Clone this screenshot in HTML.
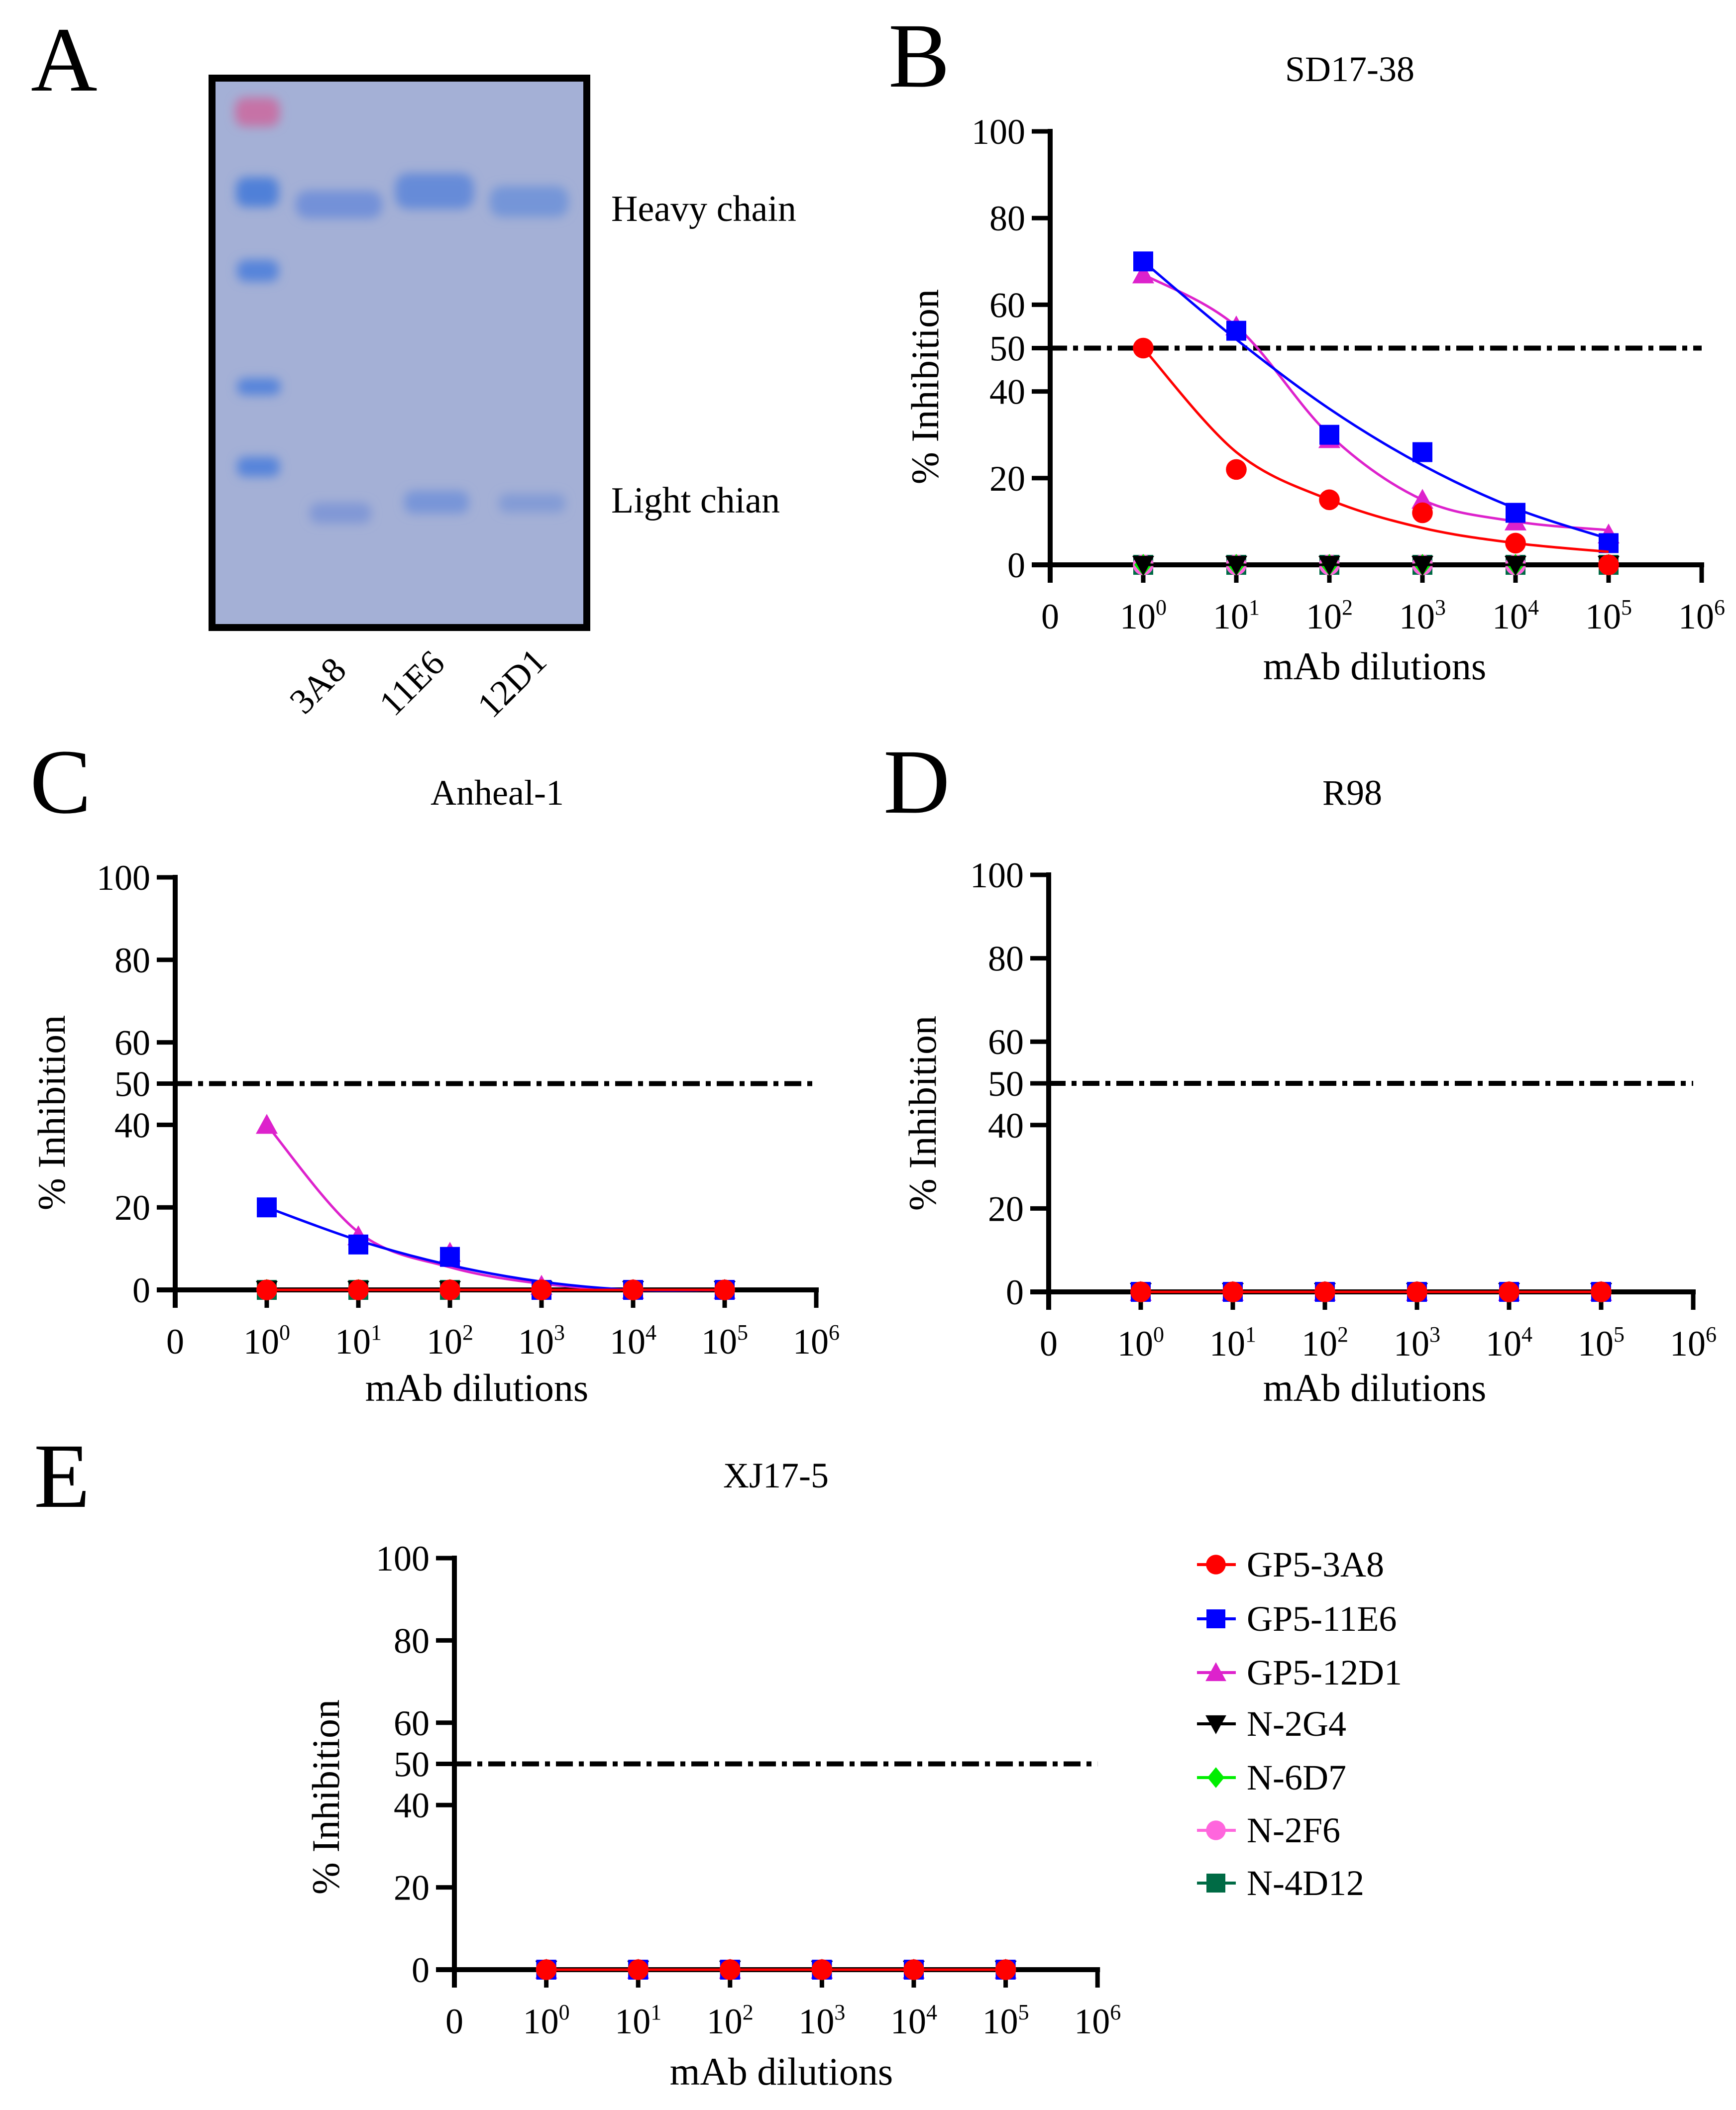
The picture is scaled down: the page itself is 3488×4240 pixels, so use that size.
<!DOCTYPE html>
<html><head><meta charset="utf-8"><style>
html,body{margin:0;padding:0;background:#fff}
svg{display:block}
text,tspan{font-family:"Liberation Serif","DejaVu Serif",serif;fill:#000}
</style></head><body>
<svg id="fig" width="3488" height="4240" viewBox="0 0 3488 4240" xmlns="http://www.w3.org/2000/svg" font-family="'Liberation Serif', serif">
<defs>
<filter id="blur" x="-30%" y="-50%" width="160%" height="200%"><feGaussianBlur stdDeviation="10"/></filter>
</defs>
<g>
<text x="62" y="182" font-size="185">A</text>
<rect x="426" y="157" width="753" height="1104" fill="#a4b0d6" stroke="#000" stroke-width="14"/>
<g filter="url(#blur)">
<rect x="472" y="196" width="90" height="58" rx="20" fill="#c672a6"/>
<rect x="474" y="356" width="86" height="60" rx="20" fill="#5080d8"/>
<rect x="476" y="522" width="84" height="44" rx="18" fill="#5684da"/>
<rect x="476" y="760" width="88" height="34" rx="16" fill="#5684da"/>
<rect x="476" y="918" width="86" height="40" rx="16" fill="#5684da"/>
<rect x="594" y="383" width="174" height="56" rx="24" fill="#7391d8"/>
<rect x="794" y="348" width="158" height="72" rx="26" fill="#668bd8"/>
<rect x="984" y="374" width="158" height="62" rx="24" fill="#7595d8"/>
<rect x="622" y="1010" width="124" height="42" rx="18" fill="#8198d6"/>
<rect x="812" y="986" width="130" height="46" rx="18" fill="#7895d8"/>
<rect x="1002" y="992" width="134" height="38" rx="16" fill="#839bd6"/>
</g>
<text x="1228" y="444" font-size="74">Heavy chain</text>
<text x="1228" y="1030" font-size="74">Light chian</text>
<text x="642" y="1400" font-size="72" text-anchor="middle" transform="rotate(-45 642 1381)">3A8</text>
<text x="831" y="1395" font-size="72" text-anchor="middle" transform="rotate(-45 831 1376)">11E6</text>
<text x="1032" y="1395" font-size="72" text-anchor="middle" transform="rotate(-45 1032 1376)">12D1</text>
</g>
<g id="charts"></g>
<g id="legend"></g>
</svg>
<script>
const xTickExp = ["", "0", "1", "2", "3", "4", "5", "6"];
const yTicks = [0, 20, 40, 50, 60, 80, 100];
const seriesNames = ["N-4D12", "N-2F6", "N-6D7", "N-2G4", "GP5-12D1", "GP5-11E6", "GP5-3A8"];
const legendOrder = ["GP5-3A8", "GP5-11E6", "GP5-12D1", "N-2G4", "N-6D7", "N-2F6", "N-4D12"];
// Panel B SD17-38
const b3A8 = [50, 22, 15, 12, 5, 0];
const b11E6 = [70, 54, 30, 26, 12, 5];
const b12D1 = [67, 55, 29, 15, 10, 7];
const b3A8Fit = [50, 26, 15, 8.5, 5, 3];
const b11E6Fit = [70, 52, 36, 23, 13, 6];
const b12D1Fit = [67, 55, 30, 15, 10, 8];
// Panel C Anheal-1
const c3A8 = [0, 0, 0, 0, 0, 0];
const c11E6 = [20, 11, 8, 0, 0, 0];
const c12D1 = [40, 13, 9, 1, 0, 0];
const c11E6Fit = [20, 12, 6, 2, 0, 0];
const c12D1Fit = [40, 14, 5.5, 1.5, 0, 0];
// Panels D / E
const zeros = [0, 0, 0, 0, 0, 0];

const NS = "http://www.w3.org/2000/svg";
const colors = {"GP5-3A8":"#ff0000","GP5-11E6":"#0000ff","GP5-12D1":"#dd22cc","N-2G4":"#000000","N-6D7":"#00ee00","N-2F6":"#ff66dd","N-4D12":"#006b45"};
const shapes = {"GP5-3A8":"circle","GP5-11E6":"square","GP5-12D1":"tri","N-2G4":"dtri","N-6D7":"diamond","N-2F6":"circle","N-4D12":"square"};
const FF = "'Liberation Serif', serif";

function mk(tag, attrs, parent){const e=document.createElementNS(NS,tag);for(const k in attrs)e.setAttribute(k,attrs[k]);parent.appendChild(e);return e;}

function marker(g, shape, cx, cy, col, s){
  let e;
  if(shape==="circle") e=mk("circle",{cx:cx,cy:cy,r:s*0.52,fill:col},g);
  else if(shape==="square") e=mk("rect",{x:cx-s/2,y:cy-s/2,width:s,height:s,fill:col},g);
  else if(shape==="tri") e=mk("polygon",{points:`${cx},${cy-s*0.55} ${cx+s*0.55},${cy+s*0.45} ${cx-s*0.55},${cy+s*0.45}`,fill:col},g);
  else if(shape==="dtri") e=mk("polygon",{points:`${cx},${cy+s*0.55} ${cx+s*0.55},${cy-s*0.45} ${cx-s*0.55},${cy-s*0.45}`,fill:col},g);
  else e=mk("polygon",{points:`${cx},${cy-s*0.55} ${cx+s*0.45},${cy} ${cx},${cy+s*0.55} ${cx-s*0.45},${cy}`,fill:col},g);
  return e;
}

function smoothPath(pts){
  let d=`M${pts[0][0]},${pts[0][1]}`;
  for(let i=0;i<pts.length-1;i++){
    const p0=pts[Math.max(i-1,0)],p1=pts[i],p2=pts[i+1],p3=pts[Math.min(i+2,pts.length-1)];
    const c1x=p1[0]+(p2[0]-p0[0])/6,c1y=p1[1]+(p2[1]-p0[1])/6;
    const c2x=p2[0]-(p3[0]-p1[0])/6,c2y=p2[1]-(p3[1]-p1[1])/6;
    d+=` C${c1x},${c1y} ${c2x},${c2y} ${p2[0]},${p2[1]}`;
  }
  return d;
}

function chart(cfg){
  const root=document.getElementById("charts");
  const g=mk("g",{"font-family":FF},root);
  
  
  const X=i=>cfg.x0+i*cfg.sp;
  const Y=v=>cfg.y0-v*cfg.h/100;
  const lt=mk("text",{x:cfg.lx,y:cfg.ly,"font-size":185,"font-family":FF},g); lt.textContent=cfg.letter;
  
  
  const tt=mk("text",{x:cfg.tx,y:cfg.ty,"font-size":72,"text-anchor":"middle","font-family":FF},g); tt.textContent=cfg.title;
  
  
  const ref=mk("line",{x1:cfg.x0,y1:Y(50),x2:X(7),y2:Y(50),stroke:"#000","stroke-width":10,"stroke-dasharray":"34 12 10 12"},g);
  
  
  const ya=mk("line",{x1:cfg.x0,y1:Y(100)-5,x2:cfg.x0,y2:cfg.y0+36,stroke:"#000","stroke-width":10},g);
  
  
  const xa=mk("line",{x1:cfg.x0-37,y1:cfg.y0,x2:X(7)+5,y2:cfg.y0,stroke:"#000","stroke-width":10},g);
  
  
  yTicks.forEach(v=>{
    const t=mk("line",{x1:cfg.x0-37,y1:Y(v),x2:cfg.x0,y2:Y(v),stroke:"#000","stroke-width":9},g);
    
    
    const l=mk("text",{x:cfg.x0-50,y:Y(v)+25,"font-size":72,"text-anchor":"end","font-family":FF},g); l.textContent=v;
    
    
  });
  xTickExp.forEach((e,i)=>{
    if(i>0){const t=mk("line",{x1:X(i),y1:cfg.y0,x2:X(i),y2:cfg.y0+36,stroke:"#000","stroke-width":9},g);
      
      }
    const l=mk("text",{x:X(i),y:cfg.y0+128,"font-size":72,"text-anchor":"middle","font-family":FF},g);
    
    
    if(e===""){l.textContent="0";}
    else{const a=mk("tspan",{},l);a.textContent="10";const s=mk("tspan",{"font-size":44,dy:-28},l);s.textContent=e;}
  });
  const yt=mk("text",{x:cfg.ytx,y:cfg.yty,"font-size":78,"text-anchor":"middle","font-family":FF,transform:`rotate(-90 ${cfg.ytx} ${cfg.yty})`},g);
  yt.textContent="% Inhibition";
  
  
  const xt=mk("text",{x:cfg.xtx,y:cfg.xty,"font-size":78,"text-anchor":"middle","font-family":FF},g);
  xt.textContent="mAb dilutions";
  
  
  seriesNames.forEach(name=>{
    const vals=cfg.data[name]||zeros, fit=(cfg.fits&&cfg.fits[name])||vals;
    const col=colors[name];
    const sg=mk("g",{},g);
    
    
    const pts=fit.map((v,i)=>[X(i+1),Y(v)]);
    const p=mk("path",{d:smoothPath(pts),fill:"none",stroke:col,"stroke-width":5},sg);
    
    
    vals.forEach((v,i)=>{
      const m=marker(sg,shapes[name],X(i+1),Y(v),col,40);
      
      
    });
  });
}

chart({id:"panel-b-sd17-38",letter:"B",lx:1785,ly:174,title:"SD17-38",tx:2712,ty:163,x0:2110,sp:187,y0:1135,h:871,
  ytx:1885,yty:777,xtx:2762,xty:1365,
  data:{"GP5-3A8":b3A8,"GP5-11E6":b11E6,"GP5-12D1":b12D1},fits:{"GP5-3A8":b3A8Fit,"GP5-11E6":b11E6Fit,"GP5-12D1":b12D1Fit}});
chart({id:"panel-c-anheal-1",letter:"C",lx:60,ly:1633,title:"Anheal-1",tx:999,ty:1617,x0:352,sp:184,y0:2592,h:829,
  ytx:130,yty:2236,xtx:958,xty:2815,
  data:{"GP5-3A8":c3A8,"GP5-11E6":c11E6,"GP5-12D1":c12D1},fits:{"GP5-11E6":c11E6Fit,"GP5-12D1":c12D1Fit}});
chart({id:"panel-d-r98",letter:"D",lx:1775,ly:1633,title:"R98",tx:2717,ty:1617,x0:2107,sp:185,y0:2596,h:838,
  ytx:1880,yty:2237,xtx:2762,xty:2815,data:{}});
chart({id:"panel-e-xj17-5",letter:"E",lx:68,ly:3028,title:"XJ17-5",tx:1559,ty:2989,x0:913,sp:184.6,y0:3958,h:827,
  ytx:681,yty:3611,xtx:1570,xty:4189,data:{}});

const legY=[3144,3253,3361,3464,3572,3678,3784];
const lg=document.getElementById("legend");
legendOrder.forEach((name,i)=>{
  const eg=mk("g",{},lg);
  
  
  mk("line",{x1:2405,y1:legY[i],x2:2483,y2:legY[i],stroke:colors[name],"stroke-width":6},eg);
  marker(eg,shapes[name],2443,legY[i],colors[name],38);
  const t=mk("text",{x:2505,y:legY[i]+24,"font-size":72,"font-family":FF},eg); t.textContent=name;
});
</script>
</body></html>
